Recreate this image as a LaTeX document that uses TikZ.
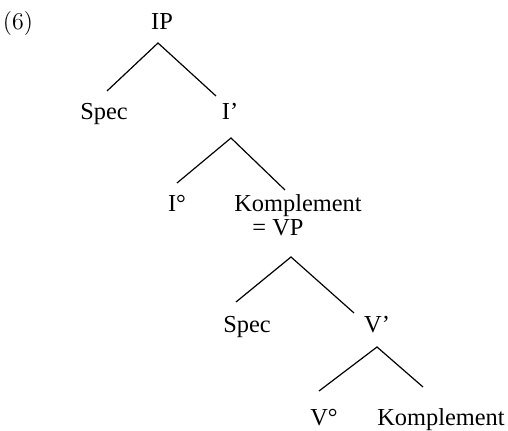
\documentclass[tikz,border=0pt]{standalone}
\usepackage{fontspec}
\newfontfamily\treefont{Liberation Serif}

\tikzset{
	label/.style={anchor=base, font=\fontsize{12.2}{14}\selectfont\treefont}
}

\begin{document}
\begin{tikzpicture}[x=0.5pt, y=-0.5pt, line width=0.6pt]
		\useasboundingbox (0, 0) rectangle (508, 431);
		
		% Example number
		\node [anchor=base, font=\fontsize{12}{14}\selectfont] (exnum) at (18, 30) {(6)};
		
		% Tree labels
		\node [label] (ip) at (162, 30) {IP};
		\node [label] (spec1) at (104, 120) {Spec};
		\node [label] (ibar) at (230, 120) {I’};
		\node [label] (izero) at (177, 212) {I°};
		\node [label] (kompl1) at (298, 212) {Komplement};
		\node [label] (vp) at (278, 236) {= VP};
		\node [label] (spec2) at (247, 333) {Spec};
		\node [label] (vbar) at (377, 333) {V’};
		\node [label] (vzero) at (324, 426) {V°};
		\node [label] (kompl2) at (441, 426) {Komplement};
		
		% Branch points
		\coordinate (ip-fork) at (158, 43);
		\coordinate (ibar-fork) at (231, 138);
		\coordinate (vp-fork) at (291, 257);
		\coordinate (vbar-fork) at (377, 347);
		
		% Branch ends
		\coordinate (spec1-top) at (107, 91);
		\coordinate (ibar-top) at (216, 96);
		\coordinate (izero-top) at (177, 183);
		\coordinate (kompl1-top) at (285, 190);
		\coordinate (spec2-top) at (236, 302);
		\coordinate (vbar-top) at (354, 313);
		\coordinate (vzero-top) at (319, 391);
		\coordinate (kompl2-top) at (423, 387);
		
		% Branches
		\draw (spec1-top) -- (ip-fork) -- (ibar-top);
		\draw (izero-top) -- (ibar-fork) -- (kompl1-top);
		\draw (spec2-top) -- (vp-fork) -- (vbar-top);
		\draw (vzero-top) -- (vbar-fork) -- (kompl2-top);
		
\end{tikzpicture}
\end{document}
